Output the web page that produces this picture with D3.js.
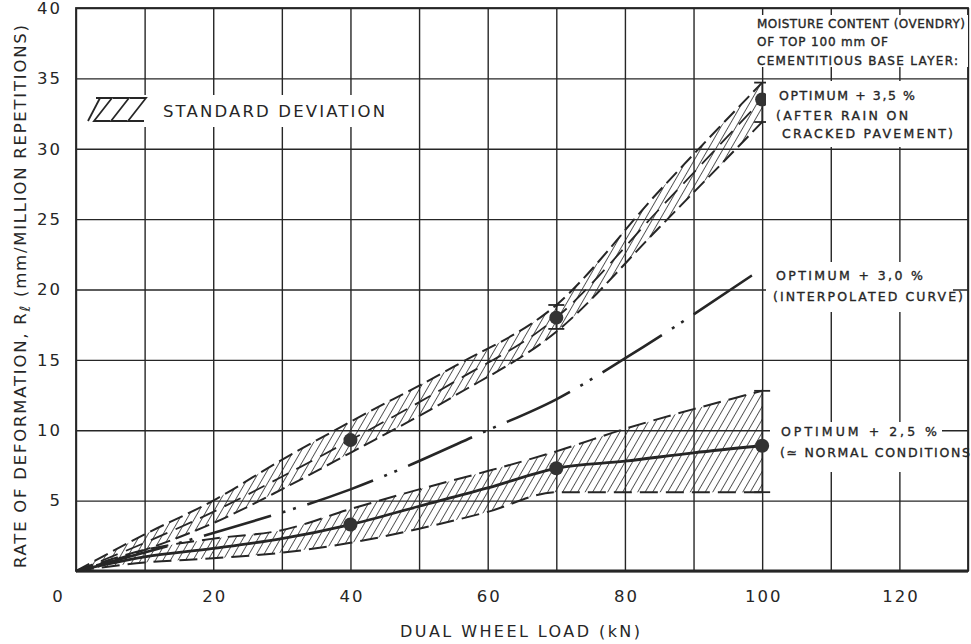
<!DOCTYPE html>
<html>
<head>
<meta charset="utf-8">
<script src="https://cdn.jsdelivr.net/npm/d3@7"></script>
<style>
body { margin: 0; background: #fff; }
text { font-family: "DejaVu Sans", sans-serif; fill: #262626; }
.heavy { stroke: #262626; stroke-width: 0.35px; }
</style>
</head>
<body>
<script>
// tick labels
var loadTicks = [0, 20, 40, 60, 80, 100, 120];
var rateTicks = [5, 10, 15, 20, 25, 30, 35, 40];

// optimum + 3,5 % (after rain on cracked pavement)
var loadWet = [0, 10, 20, 30, 40, 55, 70, 85, 100];
var meanWet = [0, 2.0, 4.2, 6.7, 9.3, 13.4, 18.0, 25.7, 33.5];
var upperWet = [0, 2.6, 5.0, 7.9, 10.6, 14.5, 18.9, 27.0, 34.7];
var lowerWet = [0, 1.5, 3.4, 5.8, 8.4, 12.4, 17.0, 24.4, 31.9];

// optimum + 3,0 % (interpolated curve)
var loadInterp = [0, 20, 40, 60, 70, 80, 98.5];
var meanInterp = [0, 2.7, 5.8, 10.0, 12.2, 15.1, 21.0];

// optimum + 2,5 % (normal conditions)
var loadNormal = [0, 10, 20, 30, 40, 50, 60, 70, 80, 90, 100];
var meanNormal = [0, 1.0, 1.6, 2.3, 3.3, 4.6, 5.9, 7.3, 7.8, 8.4, 8.9];
var upperNormal = [0, 1.5, 2.3, 2.9, 4.4, 5.8, 7.1, 8.5, 10.1, 11.5, 12.8];
var lowerNormal = [0, 0.6, 0.9, 1.3, 2.0, 3.0, 4.2, 5.6, 5.6, 5.6, 5.6];

// measured points
var pointLoad = [40, 70, 100];
var pointWet = [9.3, 18.0, 33.5];
var pointNormal = [3.3, 7.3, 8.9];

// standard deviation bars
var barLoad = [70, 100, 100];
var barLow = [17.2, 31.9, 5.6];
var barHigh = [18.9, 34.7, 12.8];

var width = 971, height = 644;
var margin = {top: 8, right: 3, bottom: 73, left: 76};
var w = width - margin.left - margin.right;
var h = height - margin.top - margin.bottom;
var ink = "#262626";

var svg = d3.select("body")
    .append("svg")
    .attr("width", width)
    .attr("height", height);

var defs = svg.append("defs");
defs.append("pattern")
    .attr("id", "hatch")
    .attr("patternUnits", "userSpaceOnUse")
    .attr("width", 6.5)
    .attr("height", 6.5)
    .attr("patternTransform", "rotate(30)")
    .append("line")
    .attr("x1", 0).attr("y1", 0)
    .attr("x2", 0).attr("y2", 6.5)
    .attr("stroke", ink)
    .attr("stroke-width", 1.5);

var g = svg.append("g")
    .attr("transform", "translate(" + margin.left + "," + margin.top + ")");

var x = d3.scaleLinear().domain([0, 130]).range([0, w]);
var y = d3.scaleLinear().domain([0, 40]).range([h, 0]);

// grid
var gx = g.append("g")
    .attr("transform", "translate(0," + h + ")")
    .call(d3.axisBottom(x).tickValues(d3.range(0, 131, 10)).tickSize(-h).tickFormat(""));
var gy = g.append("g")
    .call(d3.axisLeft(y).tickValues(d3.range(0, 41, 5)).tickSize(-w).tickFormat(""));
[gx, gy].forEach(function(a) {
    a.select(".domain").remove();
    a.selectAll("line").attr("stroke", ink).attr("stroke-width", 1.4);
});

// frame
g.append("rect")
    .attr("width", w).attr("height", h)
    .attr("fill", "none")
    .attr("stroke", ink)
    .attr("stroke-width", 1.8);
g.append("line")
    .attr("x1", 0).attr("x2", w)
    .attr("y1", h).attr("y2", h)
    .attr("stroke", ink)
    .attr("stroke-width", 2.8);

// tick labels
var xAxis = g.append("g")
    .attr("transform", "translate(0," + h + ")")
    .call(d3.axisBottom(x).tickValues(loadTicks).tickSize(0));
xAxis.select(".domain").remove();
xAxis.attr("font-family", null).attr("font-size", 16.5);
xAxis.selectAll("text")
    .attr("y", 31)
    .attr("dy", null)
    .attr("dx", 1)
    .style("letter-spacing", "2px");
xAxis.selectAll(".tick").filter(function(d) { return d === 0; })
    .select("text").attr("x", -19);

var yAxis = g.append("g")
    .call(d3.axisLeft(y).tickValues(rateTicks).tickSize(0).tickPadding(14));
yAxis.select(".domain").remove();
yAxis.attr("font-family", null).attr("font-size", 16.5);
yAxis.selectAll("text").style("letter-spacing", "2px");

// axis titles
svg.append("text")
    .attr("x", 400)
    .attr("y", 637)
    .attr("font-size", 16)
    .attr("textLength", 240)
    .text("DUAL WHEEL LOAD (kN)");

var yTitle = svg.append("text")
    .attr("transform", "translate(26,568) rotate(-90)")
    .attr("font-size", 16.5)
    .attr("textLength", 543);
yTitle.append("tspan").text("RATE OF DEFORMATION, R");
yTitle.append("tspan").attr("dy", 4).attr("font-size", 14).text("ℓ");
yTitle.append("tspan").attr("dy", -4).text(" (mm/MILLION REPETITIONS)");

// legend and annotation blocks (white backing hides the grid)
var blocks = [
    {rect: [82, 95, 313, 32], lines: []},
    {rect: [752, 15, 216, 52], lines: [
        {t: "MOISTURE CONTENT (OVENDRY)", x: 757, y: 28, len: 208, fs: 12},
        {t: "OF TOP 100 mm OF", x: 757, y: 46, len: 131, fs: 12},
        {t: "CEMENTITIOUS BASE LAYER:", x: 757, y: 65, len: 201, fs: 12}]},
    {rect: [766, 81, 200, 66], lines: [
        {t: "OPTIMUM + 3,5 %", x: 779, y: 100, len: 136, fs: 12.5},
        {t: "(AFTER RAIN ON", x: 776, y: 120, len: 132, fs: 12.5},
        {t: "CRACKED PAVEMENT)", x: 782, y: 138, len: 171, fs: 12.5}]},
    {rect: [766, 262, 187, 50], lines: [
        {t: "OPTIMUM + 3,0 %", x: 776, y: 280, len: 147, fs: 12.5},
        {t: "(INTERPOLATED CURVE)", x: 773, y: 301, len: 190, fs: 12.5}]},
    {rect: [770, 422, 172, 50], lines: [
        {t: "OPTIMUM + 2,5 %", x: 781, y: 436, len: 156, fs: 12.5},
        {t: "(≃ NORMAL CONDITIONS", x: 780, y: 457, len: 190, fs: 12.5}]}
];
blocks.forEach(function(b) {
    svg.append("rect")
        .attr("x", b.rect[0]).attr("y", b.rect[1])
        .attr("width", b.rect[2]).attr("height", b.rect[3])
        .attr("fill", "#fff");
    b.lines.forEach(function(l) {
        svg.append("text")
            .attr("class", "heavy")
            .attr("x", l.x).attr("y", l.y)
            .attr("font-size", l.fs)
            .attr("textLength", l.len)
            .text(l.t);
    });
});

// legend
svg.append("text")
    .attr("x", 163).attr("y", 117)
    .attr("font-size", 16.5)
    .attr("textLength", 222)
    .text("STANDARD DEVIATION");
var icon = svg.append("g").attr("stroke", ink).attr("stroke-width", 1.8).attr("fill", "none");
d3.range(3).forEach(function(i) {
    var a = 88 + i * 17;
    icon.append("path")
        .attr("d", "M" + (a + 8) + ",98H" + (a + 24) + "L" + (a + 6) + ",121H" + (a + 22));
});
icon.append("line").attr("x1", 88).attr("y1", 121).attr("x2", 100).attr("y2", 98);

// bands
var idx = function(a) { return a.map(function(d, i) { return i; }); };

var areaWet = d3.area()
    .x(function(i) { return x(loadWet[i]); })
    .y0(function(i) { return y(lowerWet[i]); })
    .y1(function(i) { return y(upperWet[i]); })
    .curve(d3.curveMonotoneX);
var areaNormal = d3.area()
    .x(function(i) { return x(loadNormal[i]); })
    .y0(function(i) { return y(lowerNormal[i]); })
    .y1(function(i) { return y(upperNormal[i]); })
    .curve(d3.curveMonotoneX);

g.append("path").attr("d", areaWet(idx(loadWet))).attr("fill", "url(#hatch)");
g.append("path").attr("d", areaNormal(idx(loadNormal))).attr("fill", "url(#hatch)");

function curve(xs, ys) {
    return d3.line()
        .x(function(i) { return x(xs[i]); })
        .y(function(i) { return y(ys[i]); })
        .curve(d3.curveMonotoneX)(idx(xs));
}

var lines = [
    {xs: loadWet, ys: upperWet, dash: "15,6", sw: 2},
    {xs: loadWet, ys: lowerWet, dash: "15,6", sw: 2},
    {xs: loadWet, ys: meanWet, dash: "18,9", sw: 1.8},
    {xs: loadNormal, ys: upperNormal, dash: "18,8", sw: 2},
    {xs: loadNormal, ys: lowerNormal, dash: "18,8", sw: 2},
    {xs: loadNormal, ys: meanNormal, dash: null, sw: 2.8},
    {xs: loadInterp, ys: meanInterp, dash: "70,12,3,8,3,12", sw: 2.6, endDash: 70}
];
lines.forEach(function(l) {
    var p = g.append("path")
        .attr("d", curve(l.xs, l.ys))
        .attr("fill", "none")
        .attr("stroke", ink)
        .attr("stroke-width", l.sw)
        .attr("stroke-dasharray", l.dash);
    if (l.endDash) {
        // shift the pattern so the curve ends on a long dash
        var period = d3.sum(l.dash.split(",").map(Number));
        var len = p.node().getTotalLength();
        p.attr("stroke-dashoffset", (((l.endDash - len) % period) + period) % period);
    }
});

// standard deviation bars
barLoad.forEach(function(d, i) {
    var bx = x(d);
    g.append("line")
        .attr("x1", bx).attr("x2", bx)
        .attr("y1", y(barLow[i])).attr("y2", y(barHigh[i]))
        .attr("stroke", ink).attr("stroke-width", 1.5);
    [barLow[i], barHigh[i]].forEach(function(v) {
        g.append("line")
            .attr("x1", bx - 8).attr("x2", bx + 8)
            .attr("y1", y(v)).attr("y2", y(v))
            .attr("stroke", ink).attr("stroke-width", 1.8);
    });
});

// measured points
[pointWet, pointNormal].forEach(function(vals) {
    g.selectAll(null)
        .data(pointLoad)
        .enter()
        .append("circle")
        .attr("cx", function(d) { return x(d); })
        .attr("cy", function(d, i) { return y(vals[i]); })
        .attr("r", 7)
        .attr("fill", "#333");
});
</script>
</body>
</html>
